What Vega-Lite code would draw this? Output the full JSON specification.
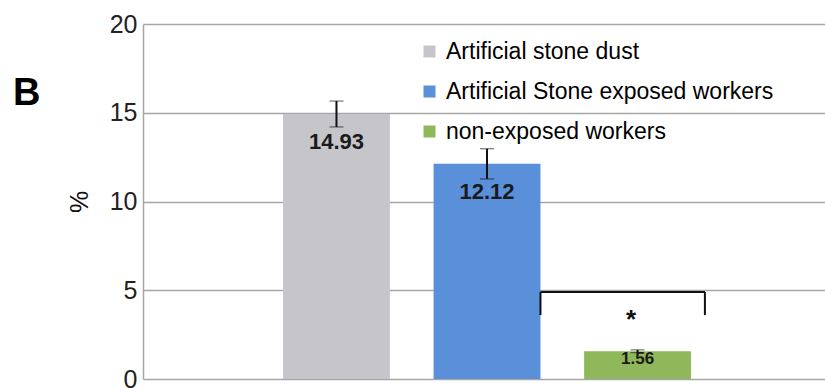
{
  "$schema": "https://vega.github.io/schema/vega-lite/v6.json",
  "width": 682,
  "height": 355,
  "autosize": {"type": "none"},
  "padding": {"left": 143, "top": 24, "right": 0, "bottom": 9},
  "background": "white",
  "title": {"text": "B", "anchor": "start", "frame": "group", "orient": "top", "fontSize": 38, "fontWeight": "bold", "font": "Liberation Sans", "color": "#000000", "offset": 0, "baseline": "bottom", "dx": -130, "dy": 139},
  "config": {
    "view": {"stroke": null},
    "font": "Liberation Sans"
  },
  "datasets": {
    "bars": [
      {"group": "Artificial stone dust", "value": 14.93, "err": 0.73},
      {"group": "Artificial Stone exposed workers", "value": 12.12, "err": 0.85},
      {"group": "non-exposed workers", "value": 1.56, "err": 0.08}
    ],
    "bracket": [
      {"from": "Artificial Stone exposed workers", "to": "non-exposed workers", "top": 4.9, "bottom": 3.6, "label": "*", "star": 3.3}
    ]
  },
  "layer": [
    {
      "data": {"name": "bars"},
      "mark": {"type": "bar"},
      "encoding": {
        "x": {"field": "group", "type": "nominal", "axis": null,
              "scale": {"domain": ["Artificial stone dust", "Artificial Stone exposed workers", "non-exposed workers"], "paddingInner": 0.29, "paddingOuter": 0.91, "align": 0.511}},
        "y": {"field": "value", "type": "quantitative", "title": "%",
              "scale": {"domain": [0, 20], "nice": false},
              "axis": {"values": [0, 5, 10, 15, 20], "grid": true, "gridColor": "#a6a6a6", "gridWidth": 1.5, "domainColor": "#a6a6a6", "domainWidth": 1.5, "ticks": false, "labelFontSize": 25, "labelColor": "#222222", "labelPadding": 6, "labelFont": "Liberation Sans", "title": "%", "titleFontSize": 25, "titleFontWeight": "normal", "titleColor": "#111111", "titlePadding": 17, "titleFont": "Liberation Sans"}},
        "color": {"field": "group", "type": "nominal",
                  "scale": {"domain": ["Artificial stone dust", "Artificial Stone exposed workers", "non-exposed workers"], "range": ["#c6c6ca", "#5a8fd9", "#8fb85a"]},
                  "legend": {"orient": "none", "legendX": 275, "legendY": 16, "title": null, "labelFontSize": 23, "labelFont": "Liberation Sans", "labelColor": "#000000", "labelLimit": 600, "symbolType": "square", "symbolSize": 144, "symbolStrokeWidth": 0, "rowPadding": 16, "labelOffset": 5}}
      }
    },
    {
      "data": {"name": "bars"},
      "mark": {"type": "errorbar", "ticks": {"size": 14, "color": "#111111", "strokeWidth": 2}, "rule": {"color": "#111111", "strokeWidth": 2}},
      "encoding": {
        "x": {"field": "group", "type": "nominal"},
        "y": {"field": "value", "type": "quantitative", "title": "%"},
        "yError": {"field": "err"}
      }
    },
    {
      "data": {"name": "bars"},
      "transform": [{"filter": "datum.value > 5"}],
      "mark": {"type": "text", "fontSize": 22, "fontWeight": "bold", "color": "#1a1a1a", "baseline": "middle", "dy": 28, "font": "Liberation Sans"},
      "encoding": {
        "x": {"field": "group", "type": "nominal"},
        "y": {"field": "value", "type": "quantitative", "title": "%"},
        "text": {"field": "value", "type": "quantitative", "format": ".2f"}
      }
    },
    {
      "data": {"name": "bars"},
      "transform": [{"filter": "datum.value <= 5"}],
      "mark": {"type": "text", "fontSize": 17, "fontWeight": "bold", "color": "#1a1a1a", "baseline": "middle", "dy": 8, "font": "Liberation Sans"},
      "encoding": {
        "x": {"field": "group", "type": "nominal"},
        "y": {"field": "value", "type": "quantitative", "title": "%"},
        "text": {"field": "value", "type": "quantitative", "format": ".2f"}
      }
    },
    {
      "data": {"name": "bracket"},
      "mark": {"type": "rule", "color": "#111111", "strokeWidth": 2},
      "encoding": {
        "x": {"field": "from", "type": "nominal", "bandPosition": 1.0},
        "x2": {"field": "to", "bandPosition": 1.13},
        "y": {"field": "top", "type": "quantitative", "title": "%"}
      }
    },
    {
      "data": {"name": "bracket"},
      "mark": {"type": "rule", "color": "#111111", "strokeWidth": 2},
      "encoding": {
        "x": {"field": "from", "type": "nominal", "bandPosition": 1.0},
        "y": {"field": "top", "type": "quantitative", "title": "%"},
        "y2": {"field": "bottom"}
      }
    },
    {
      "data": {"name": "bracket"},
      "mark": {"type": "rule", "color": "#111111", "strokeWidth": 2},
      "encoding": {
        "x": {"field": "to", "type": "nominal", "bandPosition": 1.13},
        "y": {"field": "top", "type": "quantitative", "title": "%"},
        "y2": {"field": "bottom"}
      }
    },
    {
      "data": {"name": "bracket"},
      "mark": {"type": "text", "fontSize": 26, "fontWeight": "bold", "color": "#111111", "baseline": "middle", "font": "Liberation Sans"},
      "encoding": {
        "x": {"field": "to", "type": "nominal", "bandPosition": 0.44},
        "y": {"field": "star", "type": "quantitative", "title": "%"},
        "text": {"field": "label"}
      }
    }
  ]
}
